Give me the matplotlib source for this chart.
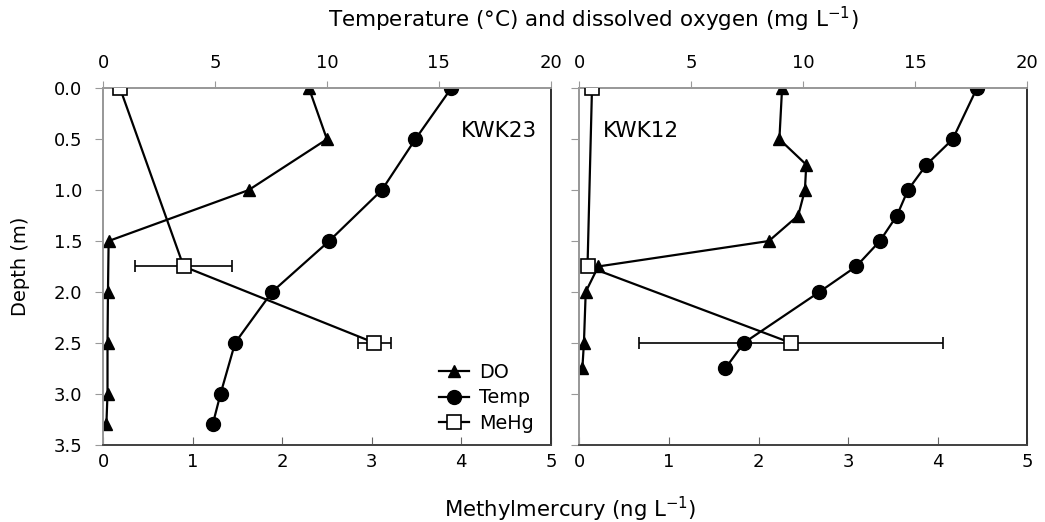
import matplotlib.pyplot as plt
from matplotlib.lines import Line2D

plt.rcParams['font.family'] = ['DejaVu Sans']

# KWK23
depth23 = [0.0, 0.5, 1.0, 1.5, 2.0, 2.5, 3.0, 3.3]
do23 = [9.2, 10.0, 6.5, 0.25, 0.22, 0.2, 0.2, 0.15]
temp23 = [15.55, 13.95, 12.45, 10.1, 7.55, 5.9, 5.25, 4.9]
mehg_depth23 = [0.0, 1.75, 2.5]
mehg23 = [0.19, 0.90, 3.03]
mehg_err23 = [0.0, 0.54, 0.18]

# KWK12
depth12 = [0.0, 0.5, 0.75, 1.0, 1.25, 1.5, 1.75, 2.0, 2.5, 2.75]
do12 = [9.05, 8.93, 10.13, 10.07, 9.77, 8.46, 0.84, 0.28, 0.2, 0.13]
temp12 = [17.75, 16.67, 15.5, 14.67, 14.18, 13.42, 12.36, 10.72, 7.35, 6.52]
mehg_depth12 = [0.0, 1.75, 2.5]
mehg12 = [0.14, 0.09, 2.36]
mehg_err12 = [0.0, 0.0, 1.7]

depth_ticks = [0, 0.5, 1.0, 1.5, 2.0, 2.5, 3.0, 3.5]

fig = plt.figure(figsize=(10.45, 5.22), dpi=100)

panels = [
    (0.0986, depth23, do23, temp23, mehg_depth23, mehg23, mehg_err23, 'KWK23', (0.97, 0.88), 'right'),
    (0.5545, depth12, do12, temp12, mehg_depth12, mehg12, mehg_err12, 'KWK12', (0.052, 0.88), 'left'),
]

axes = []
for i, (left, d, do, tp, md, mh, me, name, pos, ha) in enumerate(panels):
    ax = fig.add_axes([left, 0.1483, 0.4285, 0.6825])
    ax2 = ax.twiny()

    # temperature and DO on the top scale
    ax.plot(do, d, '-^', color='black', lw=1.6, ms=9, zorder=3)
    ax.plot(tp, d, '-o', color='black', lw=1.6, ms=10, zorder=3)
    ax.set_xlim(0, 20)
    ax.set_ylim(3.5, 0)
    ax.set_xticks([0, 5, 10, 15, 20])
    ax.xaxis.tick_top()
    ax.xaxis.set_label_position('top')
    ax.tick_params(axis='x', direction='out', length=5, color='#999999', labelsize=13, pad=7)
    ax.tick_params(axis='y', direction='out', length=6, color='#999999', labelsize=13, pad=9)
    ax.set_yticks(depth_ticks)
    if i == 0:
        ax.set_yticklabels(['%.1f' % v for v in depth_ticks])
        ax.set_ylabel('Depth (m)', fontsize=14, labelpad=17)
    else:
        ax.set_yticklabels([])

    # MeHg on the bottom scale
    ax2.errorbar(mh, md, xerr=me, fmt='-s', color='black', mfc='white', mec='black',
                 lw=1.6, ms=10, mew=1.2, capsize=4, elinewidth=1.2, zorder=4)
    ax2.set_xlim(0, 5)
    ax2.xaxis.tick_bottom()
    ax2.set_xticks([0, 1, 2, 3, 4, 5])
    ax2.tick_params(axis='x', direction='in', length=6, color='#666666', labelsize=13, pad=6)
    ax2.set_ylim(3.5, 0)

    for a in (ax, ax2):
        a.spines['left'].set_color('#999999')
        a.spines['top'].set_color('#999999')
        a.spines['right'].set_color('#333333')
        a.spines['bottom'].set_color('#444444')
        for s in a.spines.values():
            s.set_linewidth(1.3)

    ax2.text(pos[0], pos[1], name, transform=ax2.transAxes, fontsize=15.5, ha=ha, va='center')
    axes.append((ax, ax2))

handles = [
    Line2D([], [], color='black', marker='^', lw=1.6, ms=9),
    Line2D([], [], color='black', marker='o', lw=1.6, ms=10),
    Line2D([], [], color='black', marker='s', mfc='white', lw=1.6, ms=10, mew=1.2),
]
axes[0][1].legend(handles, ['DO', 'Temp', 'MeHg'], loc='lower right', bbox_to_anchor=(1.0, -0.015),
                  frameon=False, fontsize=13.8, handlelength=1.6, labelspacing=0.33, handletextpad=0.5)

fig.text(0.568, 0.962, 'Temperature (\u00b0C) and dissolved oxygen (mg L$^{-1}$)',
         ha='center', va='center', fontsize=15.5)
fig.text(0.546, 0.025, 'Methylmercury (ng L$^{-1}$)', ha='center', va='center', fontsize=15.3)

fig.savefig('out.png', dpi=100)
